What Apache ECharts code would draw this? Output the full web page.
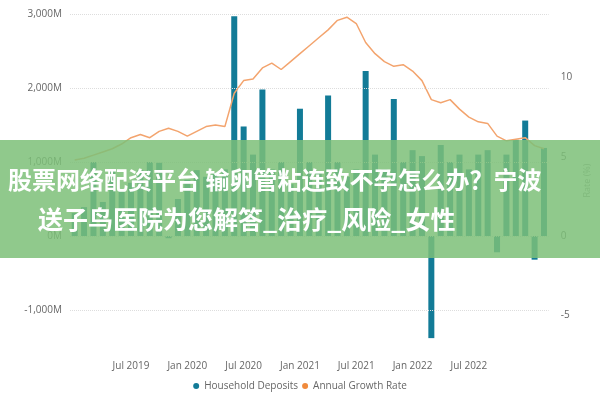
<!DOCTYPE html>
<html><head><meta charset="utf-8">
<script src="https://cdn.jsdelivr.net/npm/echarts@6/dist/echarts.min.js"></script>
<style>html,body{margin:0;padding:0;background:#fff}#c{width:600px;height:400px}</style>
</head><body><div id="c"></div>
<script>
const months = [];
for (let i = 0; i < 51; i++) { const y = 2019 + Math.floor(i / 12), m = i % 12; months.push(y + '-' + String(m + 1).padStart(2, '0')); }
const deposits = [310,390,1000,460,890,620,720,890,1000,990,-30,500,760,890,800,850,900,2970,1480,1100,1980,900,1000,700,1720,1000,850,1900,1000,800,900,2230,1100,900,1850,1000,1160,1080,-1380,1230,1000,1100,900,1100,1160,-220,1100,1300,1560,-320,1190];
const growth = [4.8,4.9,5.1,5.3,5.5,5.8,6.2,6.4,6.2,6.6,6.8,6.6,6.3,6.6,6.9,7.0,6.9,9.0,9.8,9.9,10.6,10.9,10.5,11.0,11.5,12.0,12.5,13.0,13.6,13.8,13.4,12.2,11.5,11.0,10.7,10.8,10.4,9.8,8.6,8.4,8.6,8.0,7.5,7.2,7.1,6.3,6.0,6.1,6.2,5.7,5.5];
const leftTicks = [3000,2000,1000,0,-1000];
const rightTicks = [10,5,0,-5];
const monNames = ['Jan','Feb','Mar','Apr','May','Jun','Jul','Aug','Sep','Oct','Nov','Dec'];
const bannerLine1 = '股票网络配资平台 输卵管粘连致不孕怎么办？宁波';
const bannerLine2 = '送子鸟医院为您解答_治疗_风险_女性';
const font = 'Open Sans';
const chart = echarts.init(document.getElementById('c'));
chart.setOption({
  animation:false,
  textStyle:{fontFamily:font},
  grid:{left:70,right:45,top:14,bottom:53},
  legend:{bottom:4,left:'center',itemWidth:6,itemHeight:6,itemGap:4,icon:'circle',textStyle:{color:'#666',fontSize:10,fontFamily:font},data:['Household Deposits','Annual Growth Rate']},
  xAxis:{type:'category',data:months,axisLine:{show:false},axisTick:{show:false},
    axisLabel:{color:'#666',fontSize:10,margin:14,interval:(i,v)=>{const m=+v.slice(5);return m===1||m===7;},
      formatter:(v)=>{const m=+v.slice(5);const y=v.slice(0,4);if((m===1||m===7)&&v>='2019-07'&&v<='2022-07')return monNames[m-1]+' '+y;return '';}}},
  yAxis:[
    {type:'value',min:-1500,max:3000,interval:500,splitLine:{show:false},axisLine:{show:false},axisTick:{show:false},
     axisLabel:{color:'#666',fontSize:10,formatter:v=>leftTicks.includes(v)?(v===0?'0M':v.toLocaleString('en-US')+'M'):''}},
    {type:'value',min:-7,max:14,interval:1,splitLine:{show:false},axisLine:{show:false},axisTick:{show:false},
     name:'Rate (%)',nameLocation:'middle',nameRotate:90,nameGap:30,nameTextStyle:{color:'#999',fontSize:9},
     axisLabel:{color:'#666',fontSize:10,margin:12,formatter:v=>rightTicks.includes(v)?String(v):''}}
  ],
  series:[
    {name:'Household Deposits',type:'bar',data:deposits,barWidth:6,itemStyle:{color:'#127b97'},
     markLine:{silent:true,symbol:'none',label:{show:false},lineStyle:{color:'#ddd',type:'dotted',width:1},data:leftTicks.map(v=>({yAxis:v}))}},
    {name:'Annual Growth Rate',type:'line',yAxisIndex:1,data:growth,symbol:'none',lineStyle:{color:'#f3a46e',width:1.5},itemStyle:{color:'#f08a3c'}}
  ],
  graphic:[
    {type:'rect',left:0,top:140,shape:{width:600,height:118},style:{fill:'rgba(125,192,120,0.85)'},z:100},
    {type:'text',left:8,top:168,style:{text:bannerLine1,fill:'#fff',font:'bold 24px "Noto Sans CJK SC"'},z:101},
    {type:'text',left:38,top:207,style:{text:bannerLine2,fill:'#fff',font:'bold 25px "Noto Sans CJK SC"'},z:101}
  ]
});
</script></body></html>
